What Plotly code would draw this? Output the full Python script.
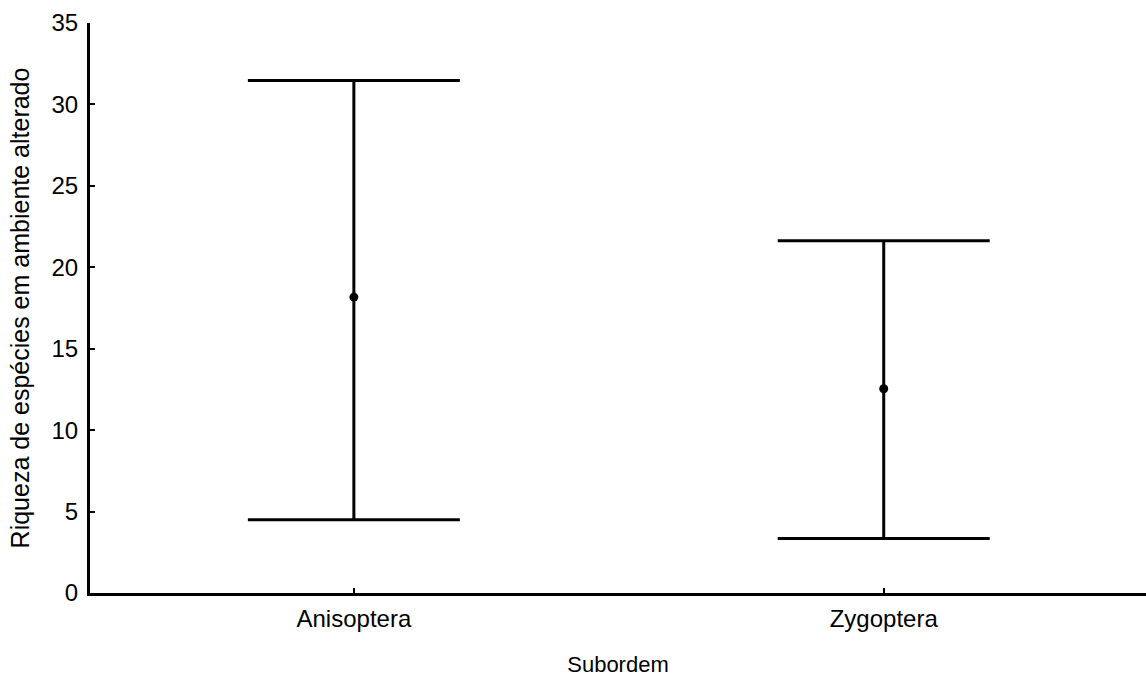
import plotly.graph_objects as go

categories = ["Anisoptera", "Zygoptera"]
means = [18.17, 12.54]
upper = [31.47, 21.63]
lower = [4.50, 3.34]

err_plus = [u - m for u, m in zip(upper, means)]
err_minus = [m - l for m, l in zip(means, lower)]

FONT = "Liberation Sans, Arial, sans-serif"

fig = go.Figure()
fig.add_trace(go.Scatter(
    x=categories,
    y=means,
    mode="markers",
    marker=dict(color="black", size=9),
    error_y=dict(
        type="data",
        symmetric=False,
        array=err_plus,
        arrayminus=err_minus,
        color="black",
        thickness=3,
        width=106,
    ),
    showlegend=False,
))

fig.update_layout(
    width=1146,
    height=677,
    margin=dict(l=90, r=0, t=23, b=84),
    paper_bgcolor="white",
    plot_bgcolor="white",
    font=dict(family=FONT, color="black"),
    xaxis=dict(
        type="category",
        range=[-0.498, 1.495],
        showline=True,
        linecolor="black",
        linewidth=3,
        ticks="inside",
        ticklen=5,
        tickwidth=2,
        tickcolor="black",
        showgrid=False,
        zeroline=False,
        tickfont=dict(size=24, family=FONT),
        ticklabelstandoff=2,
        title=dict(text="Subordem", font=dict(size=22, family=FONT), standoff=28),
    ),
    yaxis=dict(
        range=[0, 35],
        tickvals=[0, 5, 10, 15, 20, 25, 30, 35],
        showline=True,
        linecolor="black",
        linewidth=3,
        ticks="inside",
        ticklen=5,
        tickwidth=2,
        tickcolor="black",
        showgrid=False,
        zeroline=False,
        tickfont=dict(size=24, family=FONT),
        ticklabelstandoff=4,
        title=dict(text="Riqueza de espécies em ambiente alterado", font=dict(size=25, family=FONT), standoff=15),
    ),
)

fig.write_html("out.html")
